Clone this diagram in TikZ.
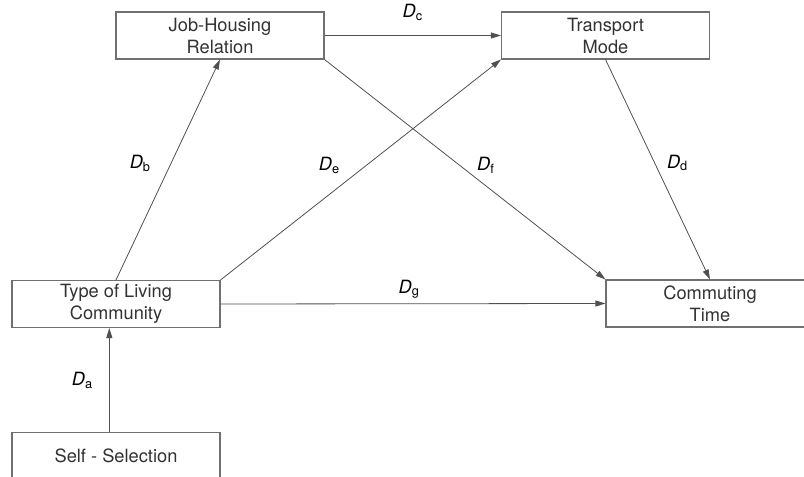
\documentclass[tikz,border=0pt]{standalone}
\usepackage{fontspec}
\setmainfont{TeX Gyre Heros}
\usepackage{tikz}
\usetikzlibrary{arrows.meta,positioning}
\usepackage{xcolor}

\definecolor{boxline}{RGB}{112,112,112}
\definecolor{pathline}{RGB}{80,80,80}
\definecolor{txt}{RGB}{50,50,50}

\begin{document}
\begin{tikzpicture}[
    x=0.75pt, y=-0.75pt,
    factor/.style={rectangle, draw=boxline, line width=0.8pt, text=txt, align=center,
        minimum width=156pt, minimum height=35.25pt, inner sep=0pt,
        font=\fontsize{13.7}{16.5}\selectfont},
    coef/.style={inner sep=0pt, text=black, font=\fontsize{13.7}{16.5}\selectfont},
    arrow/.style={-{Triangle[length=7.5pt,width=4.5pt]}, draw=pathline, line width=0.6pt}
]
\useasboundingbox (0,0) rectangle (804,477);
\clip (0,0) rectangle (804,477);

\node[factor] (job) at (220,35.5) {Job-Housing\\Relation};
\node[factor] (mode) at (605.5,35.5) {Transport\\Mode};
\node[factor] (type) at (116,304) {Type of Living\\Community};
\node[factor] (self) at (116,456) {Self - Selection};
\node[factor] (time) at (710,303.5) {Commuting\\Time};

\draw[arrow] ([xshift=-5pt]self.north) -- node[coef, left=12pt] (da) {\textit{D}\textsubscript{a}} ([xshift=-5pt]type.south);
\draw[arrow] (type.north) -- node[coef, pos=.53, left=15pt] (db) {\textit{D}\textsubscript{b}} (job.south);
\draw[arrow] (job.east) -- node[coef, pos=.5, above=11pt] (dc) {\textit{D}\textsubscript{c}} (mode.west);
\draw[arrow] (mode.south) -- node[coef, pos=.47, right=9pt] (dd) {\textit{D}\textsubscript{d}} (time.north);
\draw[arrow] (type.north east) -- node[coef, pos=.52, left=19.5pt] (de) {\textit{D}\textsubscript{e}} (mode.south west);
\draw[arrow] (job.south east) -- node[coef, pos=.48, right=13pt] (df) {\textit{D}\textsubscript{f}} (time.north west);
\draw[arrow] (type.east) -- node[coef, pos=.49, above=3.5pt] (dg) {\textit{D}\textsubscript{g}} (time.west);

\end{tikzpicture}
\end{document}
